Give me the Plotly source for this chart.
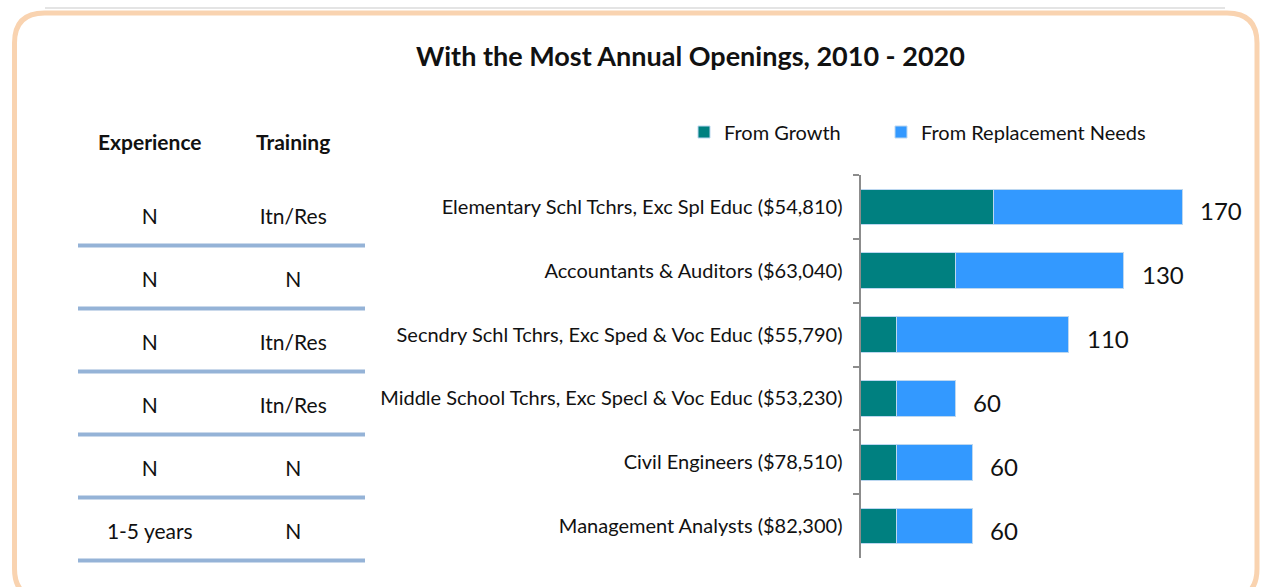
import plotly.graph_objects as go

categories = [
    "Elementary Schl Tchrs, Exc Spl Educ ($54,810)",
    "Accountants & Auditors ($63,040)",
    "Secndry Schl Tchrs, Exc Sped & Voc Educ ($55,790)",
    "Middle School Tchrs, Exc Specl & Voc Educ ($53,230)",
    "Civil Engineers ($78,510)",
    "Management Analysts ($82,300)",
]
from_growth = [70, 50, 19, 19, 19, 19]
from_replacement = [100, 89, 91, 31, 40, 40]
total_labels = ["170", "130", "110", "60", "60", "60"]
experience = ["N", "N", "N", "N", "N", "1-5 years"]
training = ["Itn/Res", "N", "Itn/Res", "Itn/Res", "N", "N"]
table_headers = ["Experience", "Training"]

W, H = 1262, 587
FONT = "Lato, 'Open Sans', sans-serif"
TEAL = "#008080"
BLUE = "#3399FF"

fig = go.Figure()
fig.add_trace(go.Bar(
    y=categories, x=from_growth, orientation="h", name="From Growth",
    marker=dict(color=TEAL, line=dict(color="#bcd7f0", width=1)),
    xaxis="x", yaxis="y", legend="legend",
))
fig.add_trace(go.Bar(
    y=categories, x=from_replacement, orientation="h", name="From Replacement Needs",
    marker=dict(color=BLUE, line=dict(color="#bcd7f0", width=1)),
    xaxis="x", yaxis="y", legend="legend2",
))

# table cells as text traces
for col, vals in zip(table_headers, [experience, training]):
    fig.add_trace(go.Scatter(
        x=[col] * len(vals), y=categories, mode="text", text=vals,
        textfont=dict(family=FONT, size=21, color="#111"),
        xaxis="x2", yaxis="y2", showlegend=False, hoverinfo="skip",
    ))

annotations = []
for cat, g, r, lab in zip(categories, from_growth, from_replacement, total_labels):
    annotations.append(dict(
        x=g + r, y=cat, xref="x", yref="y", text=lab, showarrow=False,
        xanchor="left", xshift=16, yshift=-4,
        font=dict(family=FONT, size=24, color="#111"),
    ))
header_x = [150 / W, 293 / W]
for hx, htxt in zip(header_x, table_headers):
    annotations.append(dict(
        x=hx, y=1 - 142 / H, xref="paper", yref="paper", text="<b>%s</b>" % htxt,
        showarrow=False, xanchor="center", yanchor="middle",
        font=dict(family=FONT, size=21, color="#111"),
    ))
annotations.append(dict(
    x=690 / W, y=1 - 56 / H, xref="paper", yref="paper",
    text="<b>With the Most Annual Openings, 2010 - 2020</b>", showarrow=False,
    xanchor="center", yanchor="middle", font=dict(family=FONT, size=27, color="#111"),
))

shapes = []
# table separator lines
for i in range(len(categories)):
    shapes.append(dict(
        type="line", xref="paper", yref="y2", x0=78 / W, x1=365 / W,
        y0=i + 0.42, y1=i + 0.42, line=dict(color="#95B3D7", width=4),
    ))
# shadow + rounded border
shapes.append(dict(type="line", xref="paper", yref="paper", x0=45 / W, x1=1225 / W,
                   y0=1 - 8 / H, y1=1 - 8 / H, line=dict(color="#e4e4e4", width=2)))
L, R, T, B = 14.5 / W, 1257 / W, 1 - 13 / H, -0.02
rx, ry = 30 / W, 30 / H
path = (f"M {L+rx},{T} L {R-rx},{T} Q {R},{T} {R},{T-ry} L {R},{B+ry} Q {R},{B} {R-rx},{B} "
        f"L {L+rx},{B} Q {L},{B} {L},{B+ry} L {L},{T-ry} Q {L},{T} {L+rx},{T} Z")
shapes.append(dict(type="path", xref="paper", yref="paper", path=path,
                   line=dict(color="#F9D3B0", width=5), fillcolor="rgba(0,0,0,0)"))

legend_common = dict(orientation="h", y=1 - 132 / H, xanchor="left", yanchor="middle",
                     font=dict(family=FONT, size=20, color="#111"), itemwidth=30,
                     bgcolor="rgba(0,0,0,0)")

fig.update_layout(
    width=W, height=H,
    margin=dict(l=0, r=0, t=0, b=0),
    paper_bgcolor="white", plot_bgcolor="white",
    barmode="stack", bargap=0.44,
    font=dict(family=FONT, color="#111"),
    xaxis=dict(domain=[860.5 / W, (860.5 + 205 * 1.894) / W], range=[0, 205],
               visible=False, anchor="y"),
    yaxis=dict(domain=[1 - 558 / H, 1 - 175 / H], autorange="reversed", anchor="x",
               showline=True, linecolor="#8c8c8c", linewidth=2,
               ticks="outside", tickson="boundaries", ticklen=6, tickcolor="#8c8c8c",
               tickwidth=2, showgrid=False,
               tickfont=dict(family=FONT, size=20, color="#111"), ticklabelstandoff=12),
    xaxis2=dict(domain=[78 / W, 365 / W], range=[-0.5, 1.5], visible=False,
                anchor="y2", type="category", categoryorder="array",
                categoryarray=table_headers),
    yaxis2=dict(domain=[1 - 565.5 / H, 1 - 187.5 / H], range=[5.5, -0.5],
                visible=False, anchor="x2", type="category",
                categoryorder="array", categoryarray=categories),
    legend=dict(x=684 / W, **legend_common),
    legend2=dict(x=881 / W, **legend_common),
    annotations=annotations, shapes=shapes, showlegend=True,
)

fig.write_html("out.html", post_script="document.body.style.margin='0';",
               config={"displayModeBar": False})
